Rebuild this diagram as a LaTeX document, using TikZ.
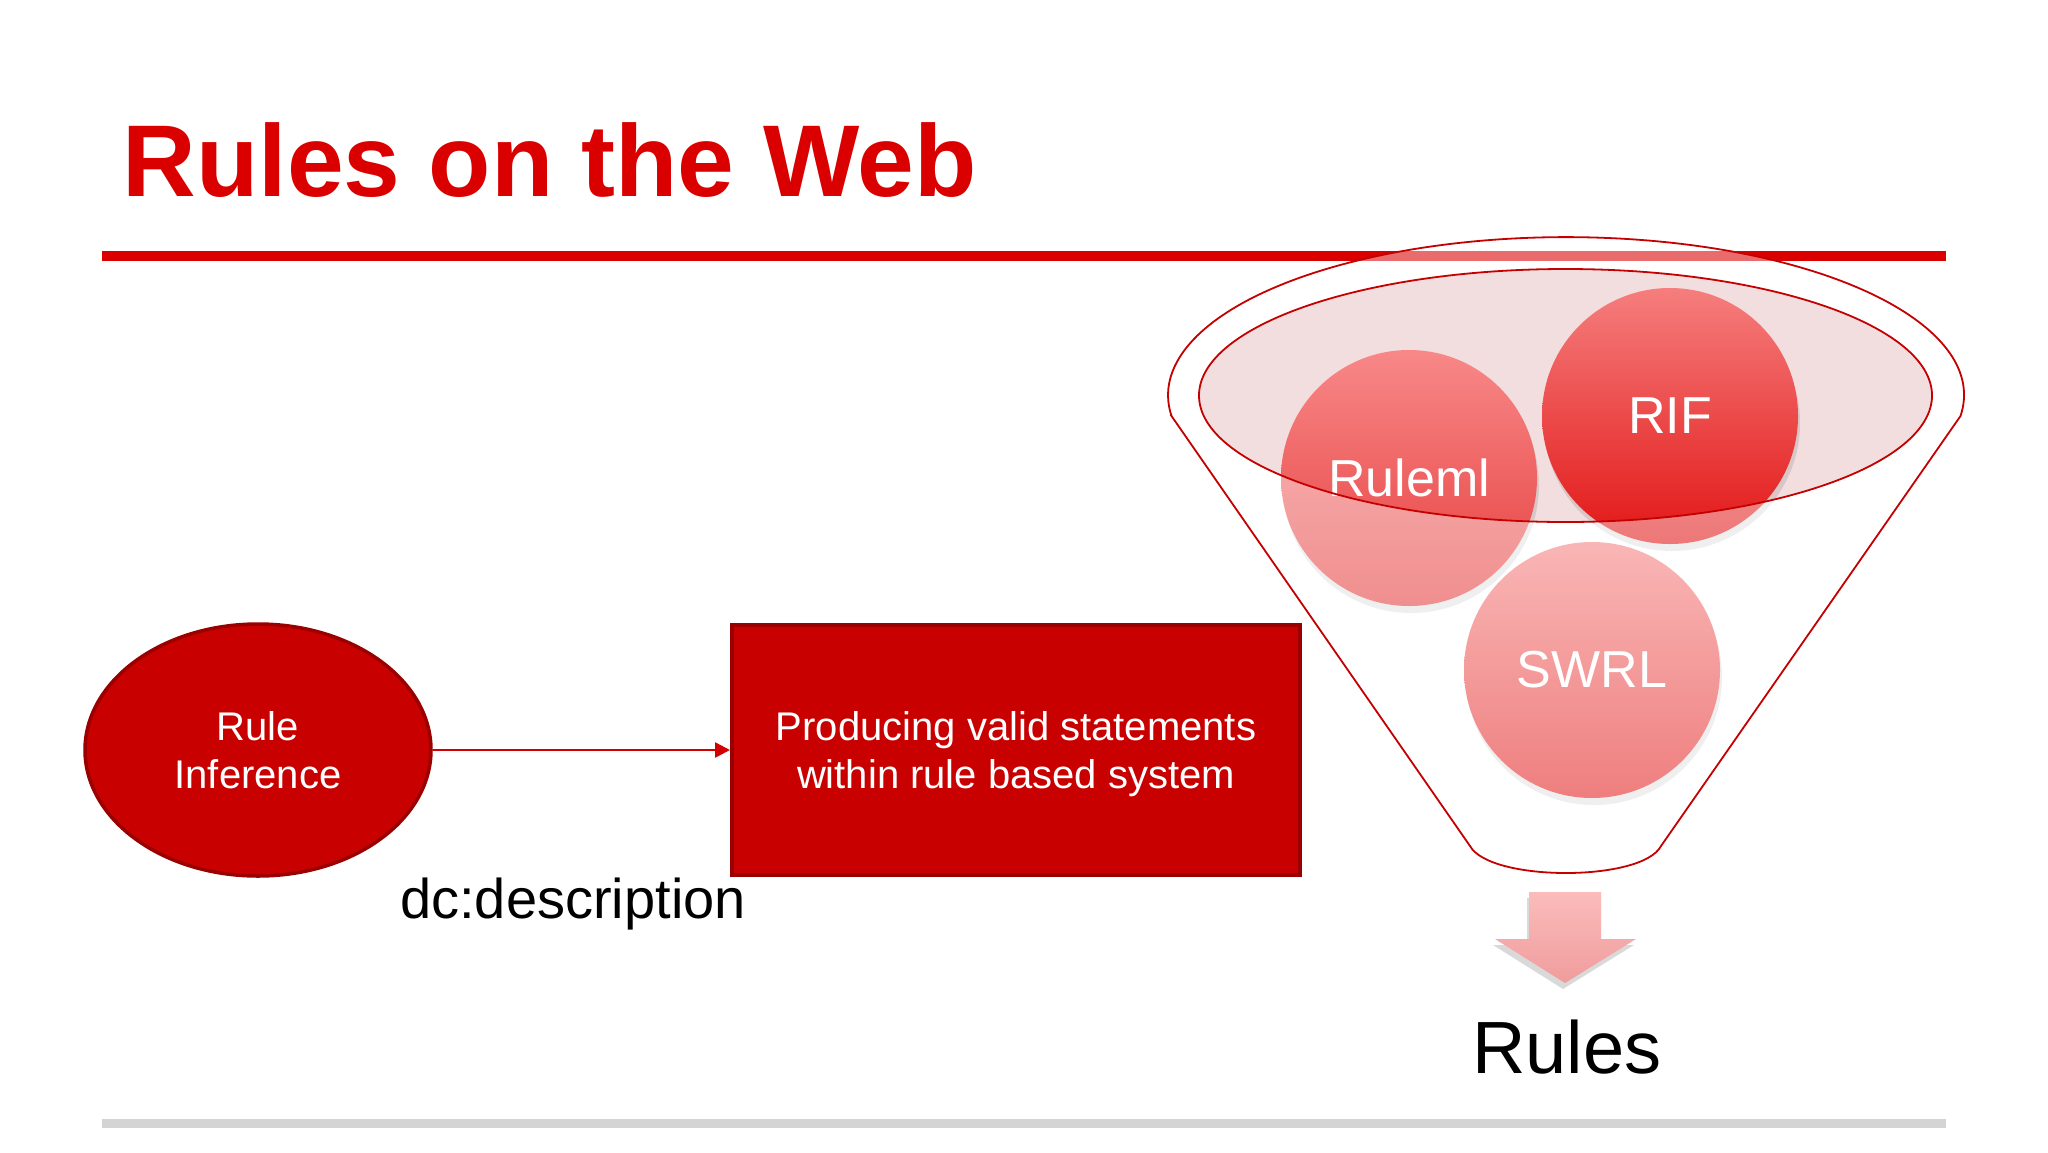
\documentclass[tikz,border=0pt]{standalone}
\usepackage{fontspec}
\setmainfont{Liberation Sans}
\usetikzlibrary{shapes.geometric,arrows.meta}
\definecolor{titlered}{RGB}{218,0,0}
\definecolor{boxred}{RGB}{200,0,0}
\definecolor{boxedge}{RGB}{155,0,0}
\definecolor{linered}{RGB}{210,0,0}
\definecolor{funnelred}{RGB}{196,0,0}
\definecolor{rimpink}{RGB}{242,222,222}
\definecolor{rmtop}{RGB}{248,136,136}
\definecolor{rmbot}{RGB}{230,62,62}
\definecolor{riftop}{RGB}{246,126,126}
\definecolor{rifbot}{RGB}{226,22,22}
\definecolor{swtop}{RGB}{246,130,130}
\definecolor{swbot}{RGB}{228,34,34}
\definecolor{arrtop}{RGB}{251,188,188}
\definecolor{arrbot}{RGB}{240,156,156}
\definecolor{greyrule}{RGB}{212,212,212}
\tikzset{
  bubble/.style={circle, minimum size=256pt, inner sep=0pt, text=white,
    font=\fontsize{52}{60}\selectfont},
  bubbleshadow/.style={fill=black, opacity=0.10},
  redshape/.style={fill=boxred, draw=boxedge, text=white, align=center, inner sep=0pt,
    font=\fontsize{40}{48}\selectfont},
  funnelline/.style={draw=funnelred, line width=1.8pt},
  plain/.style={inner sep=0pt, anchor=base, text=black}
}
\def\funnelpath{(1171.5,416) -- (1470,846) .. controls (1490,882) and (1642,882) .. (1661,846) -- (1960.5,416) arc[start angle=7.6, end angle=-187.6, x radius=398, y radius=158] -- cycle}
\def\innerpath{(1565.5,395.5) ellipse [x radius=366.5, y radius=126.5]}
\begin{document}
\begin{tikzpicture}[x=1pt,y=-1pt]
\useasboundingbox (0,0) rectangle (2048,1152);
\fill[white] (0,0) rectangle (2048,1152);

% title and rules
\node[inner sep=0pt, anchor=base west, text=titlered,
  font=\fontsize{102}{110}\selectfont\bfseries] (title) at (122.5,196) {Rules on the Web};
\fill[titlered] (102,251) rectangle (1946,261);
\fill[greyrule] (102,1119) rectangle (1946,1128);

% left part
\node[redshape, ellipse, line width=3.5pt, minimum width=346pt, minimum height=252pt]
  (inf) at (258,750) {Rule\\Inference};
\node[redshape, rectangle, line width=4pt, minimum width=568pt, minimum height=250pt, text depth=0pt]
  (prod) at (1016,750) {Producing valid statements\\within rule based system};
\draw[linered, line width=2.5pt, -{Triangle[length=15pt,width=15pt]}] (inf.east) -- (prod.west);
\node[plain, font=\fontsize{56}{64}\selectfont] (dc) at (573,918) {dc:description};

% funnel
\fill[rimpink] \innerpath;
\fill[bubbleshadow] (1411,485) circle[radius=128];
\fill[bubbleshadow] (1672,423) circle[radius=128];
\fill[bubbleshadow] (1594,677) circle[radius=128];
\node[bubble, top color=rmtop, bottom color=rmbot] (ruleml) at (1409,478) {Ruleml};
\node[bubble, top color=riftop, bottom color=rifbot] (rif) at (1670,416) {RIF};
\node[bubble, top color=swtop, bottom color=swbot] (swrl) at (1592,670) {SWRL};
\fill[white, fill opacity=0.42, even odd rule] \funnelpath \innerpath;
\draw[funnelline] \funnelpath;
\draw[funnelline] \innerpath;

% down arrow
\fill[black, opacity=0.15] (1527,898) -- (1599,898) -- (1599,945) -- (1634,945) -- (1563,989) -- (1493,945) -- (1527,945) -- cycle;
\path[top color=arrtop, bottom color=arrbot] (1529,892) -- (1601,892) -- (1601,939) -- (1636,939) -- (1565,983) -- (1495,939) -- (1529,939) -- cycle;
\node[plain, font=\fontsize{74}{80}\selectfont] (rules) at (1567,1073) {Rules};
\end{tikzpicture}
\end{document}
